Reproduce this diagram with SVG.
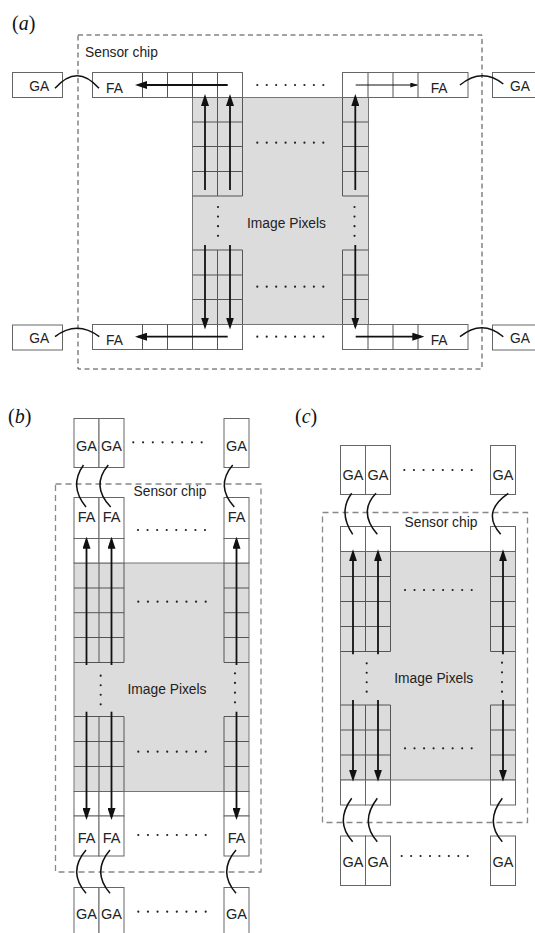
<svg xmlns="http://www.w3.org/2000/svg" width="535" height="933" viewBox="0 0 535 933">
<defs>
<marker id="ah" viewBox="0 0 12 8" refX="9" refY="4" markerWidth="12" markerHeight="8" markerUnits="userSpaceOnUse" orient="auto"><path d="M0,0 L12,4 L0,8 z" fill="#111"/></marker>
<marker id="ahs" viewBox="0 0 8 5" refX="7" refY="2.5" markerWidth="8" markerHeight="5" markerUnits="userSpaceOnUse" orient="auto"><path d="M0,0 L8,2.5 L0,5 z" fill="#111"/></marker>
</defs>
<style>
.box{fill:#fff;stroke:#666;stroke-width:1}
.grid{fill:none;stroke:#555;stroke-width:1}
.pix{fill:#dcdcdc;stroke:#777;stroke-width:1}
.chipA{fill:none;stroke:#444;stroke-width:1;stroke-dasharray:5 3.5}
.chipB{fill:none;stroke:#888;stroke-width:1.3;stroke-dasharray:6 4}
.arc{fill:none;stroke:#111;stroke-width:1.5}
.arr{fill:none;stroke:#111;stroke-width:1.8;marker-end:url(#ah)}
.thin{fill:none;stroke:#111;stroke-width:1;marker-end:url(#ahs)}
.dots{fill:none;stroke:#222;stroke-width:2.2;stroke-linecap:round}
.lbl{font-family:"Liberation Sans",Arial,sans-serif;font-size:13.8px;fill:#222}
.lb2{font-family:"Liberation Sans",Arial,sans-serif;font-size:14.5px;fill:#222;text-anchor:middle}
.mid{text-anchor:middle}
.pan{font-family:"Liberation Serif","Times New Roman",serif;font-size:20px;fill:#111}
</style>
<rect width="535" height="933" fill="#fff"/>

<!-- ================= Panel (a) ================= -->
<g id="a-label"><text class="pan" x="12" y="30">(<tspan font-style="italic">a</tspan>)</text></g>
<g id="a-chip">
<rect class="chipA" x="78" y="35" width="404" height="334"/>
<text class="lbl" x="85" y="57">Sensor chip</text>
</g>
<g id="a-pixels">
<rect class="pix" x="192.5" y="97.5" width="176" height="227"/>
<path class="grid" d="M192.5,122H242.5M192.5,146.5H242.5M192.5,171.5H242.5M192.5,196H242.5M217.5,97.5V196M242.5,97.5V196
M192.5,250H242.5M192.5,275H242.5M192.5,299.5H242.5M217.5,250V324.5M242.5,250V324.5
M342.5,122H368.5M342.5,146.5H368.5M342.5,171.5H368.5M342.5,196H368.5M342.5,97.5V196
M342.5,250H368.5M342.5,275H368.5M342.5,299.5H368.5M342.5,250V324.5"/>
<text class="lbl mid" x="286.5" y="228">Image Pixels</text>
<line class="dots" x1="257.3" y1="142.7" x2="323.6" y2="142.7" stroke-dasharray="0 9.43"/>
<line class="dots" x1="257.3" y1="286.7" x2="323.6" y2="286.7" stroke-dasharray="0 9.43"/>
<line class="dots" x1="218" y1="207" x2="218" y2="236.1" stroke-dasharray="0 9.6"/>
<line class="dots" x1="354.5" y1="207" x2="354.5" y2="236.1" stroke-dasharray="0 9.6"/>
</g>
<g id="a-fa-top-left">
<rect class="box" x="92.5" y="72.5" width="150" height="25"/>
<path class="grid" d="M142.5,72.5V97.5M167.5,72.5V97.5M192.5,72.5V97.5M217.5,72.5V97.5"/>
<text class="lbl" x="106" y="93">FA</text>
</g>
<g id="a-fa-top-right">
<rect class="box" x="342.5" y="72.5" width="125.5" height="25"/>
<path class="grid" d="M368,72.5V97.5M393,72.5V97.5M418,72.5V97.5"/>
<text class="lbl" x="430.7" y="93">FA</text>
</g>
<g id="a-fa-bottom-left">
<rect class="box" x="92.5" y="324.5" width="150" height="25"/>
<path class="grid" d="M142.5,324.5V349.5M167.5,324.5V349.5M192.5,324.5V349.5M217.5,324.5V349.5"/>
<text class="lbl" x="106" y="344.5">FA</text>
</g>
<g id="a-fa-bottom-right">
<rect class="box" x="342.5" y="324.5" width="125.5" height="25"/>
<path class="grid" d="M368,324.5V349.5M393,324.5V349.5M418,324.5V349.5"/>
<text class="lbl" x="430.7" y="345">FA</text>
</g>
<g id="a-ga-top-left"><rect class="box" x="12.5" y="72.5" width="50" height="25"/><text class="lbl" x="29.3" y="90.7">GA</text></g>
<g id="a-ga-top-right"><rect class="box" x="492.5" y="72.5" width="50" height="25"/><text class="lbl" x="510" y="90.7">GA</text></g>
<g id="a-ga-bottom-left"><rect class="box" x="12.5" y="325" width="50" height="25"/><text class="lbl" x="29.3" y="343.3">GA</text></g>
<g id="a-ga-bottom-right"><rect class="box" x="492.5" y="325" width="50" height="25"/><text class="lbl" x="510" y="343.3">GA</text></g>
<g id="a-dots-rows">
<line class="dots" x1="257.3" y1="85" x2="323.6" y2="85" stroke-dasharray="0 9.43"/>
<line class="dots" x1="257.3" y1="336.7" x2="323.6" y2="336.7" stroke-dasharray="0 9.43"/>
</g>
<g id="a-connectors">
<path class="arc" d="M55,88.3 Q77,63 99,88.3"/>
<path class="arc" d="M460,85 Q482,67 503.3,84"/>
<path class="arc" d="M55,336.7 Q77,320 99.3,336.7"/>
<path class="arc" d="M460,336.7 Q482,318.7 503.3,336.7"/>
<line class="arr" x1="205" y1="190" x2="205" y2="97"/>
<line class="arr" x1="230" y1="190" x2="230" y2="97"/>
<line class="arr" x1="355.3" y1="190" x2="355.3" y2="97"/>
<line class="arr" x1="205" y1="245" x2="205" y2="326.5"/>
<line class="arr" x1="230" y1="245" x2="230" y2="326.5"/>
<line class="arr" x1="355.3" y1="245" x2="355.3" y2="326.5"/>
<line class="arr" x1="227.7" y1="85" x2="138" y2="85"/>
<line class="thin" x1="355.7" y1="85" x2="417.3" y2="85"/>
<line class="arr" x1="227.7" y1="336.7" x2="138" y2="336.7"/>
<line class="arr" x1="355.7" y1="336.7" x2="421.3" y2="336.7"/>
</g>

<!-- ================= Panel (b) ================= -->
<g id="b-label"><text class="pan" x="8" y="423">(<tspan font-style="italic">b</tspan>)</text></g>
<g id="b-chip">
<rect class="chipB" x="55.5" y="484" width="205.5" height="388"/>
<text class="lbl mid" x="170" y="496">Sensor chip</text>
</g>
<g id="b-pixels">
<rect class="pix" x="74" y="563" width="175" height="228.5"/>
<path class="grid" d="M74,588H124M74,612.7H124M74,637.5H124M74,662.5H124M99,563V662.5M124,563V662.5
M224,588H249M224,612.7H249M224,637.5H249M224,662.5H249M224,563V662.5
M74,716.5H124M74,741.5H124M74,766.5H124M99,716.5V791.5M124,716.5V791.5
M224,716.5H249M224,741.5H249M224,766.5H249M224,716.5V791.5"/>
<text class="lbl mid" x="167" y="694">Image Pixels</text>
<line class="dots" x1="138.3" y1="601.7" x2="206" y2="601.7" stroke-dasharray="0 9.63"/>
<line class="dots" x1="138.3" y1="751.7" x2="206" y2="751.7" stroke-dasharray="0 9.63"/>
<line class="dots" x1="100.7" y1="675.7" x2="100.7" y2="704.6" stroke-dasharray="0 9.53"/>
<line class="dots" x1="235" y1="673.3" x2="235" y2="702.6" stroke-dasharray="0 9.67"/>
</g>
<g id="b-ga-top">
<rect class="box" x="74" y="418.5" width="25" height="49"/>
<rect class="box" x="99" y="418.5" width="25" height="49"/>
<rect class="box" x="224" y="418.5" width="25" height="49"/>
<text class="lb2" x="86.5" y="450.5">GA</text>
<text class="lb2" x="111.5" y="450.5">GA</text>
<text class="lb2" x="236.5" y="450.5">GA</text>
<line class="dots" x1="133.3" y1="442.3" x2="202" y2="442.3" stroke-dasharray="0 9.77"/>
</g>
<g id="b-fa-top">
<rect class="box" x="74" y="497.5" width="25" height="41"/>
<rect class="box" x="99" y="497.5" width="25" height="41"/>
<rect class="box" x="224" y="497.5" width="25" height="41"/>
<rect class="box" x="74" y="538.5" width="25" height="24.5"/>
<rect class="box" x="99" y="538.5" width="25" height="24.5"/>
<rect class="box" x="224" y="538.5" width="25" height="24.5"/>
<text class="lb2" x="86.5" y="522.3">FA</text>
<text class="lb2" x="111.5" y="522.3">FA</text>
<text class="lb2" x="236.5" y="522.3">FA</text>
<line class="dots" x1="138" y1="530" x2="205.3" y2="530" stroke-dasharray="0 9.57"/>
</g>
<g id="b-fa-bottom">
<rect class="box" x="74" y="791.5" width="25" height="24.5"/>
<rect class="box" x="99" y="791.5" width="25" height="24.5"/>
<rect class="box" x="224" y="791.5" width="25" height="24.5"/>
<rect class="box" x="74" y="816" width="25" height="40"/>
<rect class="box" x="99" y="816" width="25" height="40"/>
<rect class="box" x="224" y="816" width="25" height="40"/>
<text class="lb2" x="86.5" y="842.7">FA</text>
<text class="lb2" x="111.5" y="842.7">FA</text>
<text class="lb2" x="236.5" y="842.7">FA</text>
<line class="dots" x1="138.3" y1="835" x2="206" y2="835" stroke-dasharray="0 9.63"/>
</g>
<g id="b-ga-bottom">
<rect class="box" x="74" y="887.5" width="25" height="49"/>
<rect class="box" x="99" y="887.5" width="25" height="49"/>
<rect class="box" x="224" y="887.5" width="25" height="49"/>
<text class="lb2" x="86.5" y="919.3">GA</text>
<text class="lb2" x="111.5" y="919.3">GA</text>
<text class="lb2" x="236.5" y="919.3">GA</text>
<line class="dots" x1="138.3" y1="911.7" x2="206" y2="911.7" stroke-dasharray="0 9.63"/>
</g>
<g id="b-connectors">
<path class="arc" d="M83.5,465 Q68.6,486 86,507"/>
<path class="arc" d="M108.3,465 Q90.5,486 110.7,507"/>
<path class="arc" d="M232.7,465 Q215.1,486 234.3,507"/>
<path class="arc" d="M86,850 Q67.4,871.7 86,893.3"/>
<path class="arc" d="M110,850 Q91.4,871.7 110,893.3"/>
<path class="arc" d="M236,850 Q217.4,871.7 236,893.3"/>
<line class="arr" x1="86.5" y1="665" x2="86.5" y2="539.7"/>
<line class="arr" x1="111.5" y1="665" x2="111.5" y2="539.7"/>
<line class="arr" x1="236.5" y1="665" x2="236.5" y2="539.7"/>
<line class="arr" x1="86.5" y1="711.7" x2="86.5" y2="817"/>
<line class="arr" x1="111.5" y1="711.7" x2="111.5" y2="817"/>
<line class="arr" x1="236.5" y1="711.7" x2="236.5" y2="817"/>
</g>

<!-- ================= Panel (c) ================= -->
<g id="c-label"><text class="pan" x="295" y="423.3">(<tspan font-style="italic">c</tspan>)</text></g>
<g id="c-chip">
<rect class="chipB" x="322.5" y="512.5" width="205" height="310"/>
<text class="lbl mid" x="441" y="526.7">Sensor chip</text>
</g>
<g id="c-pixels">
<rect class="pix" x="340.5" y="551.5" width="175" height="228.5"/>
<path class="grid" d="M340.5,576.5H390.5M340.5,601.5H390.5M340.5,626.5H390.5M340.5,651.5H390.5M365.5,551.5V651.5M390.5,551.5V651.5
M490.5,576.5H515.5M490.5,601.5H515.5M490.5,626.5H515.5M490.5,651.5H515.5M490.5,551.5V651.5
M340.5,705H390.5M340.5,730H390.5M340.5,755H390.5M365.5,705V780M390.5,705V780
M490.5,705H515.5M490.5,730H515.5M490.5,755H515.5M490.5,705V780"/>
<text class="lbl mid" x="433.7" y="682.7">Image Pixels</text>
<line class="dots" x1="405" y1="590" x2="472" y2="590" stroke-dasharray="0 9.53"/>
<line class="dots" x1="405" y1="748.3" x2="472" y2="748.3" stroke-dasharray="0 9.53"/>
<line class="dots" x1="366.7" y1="663.3" x2="366.7" y2="692" stroke-dasharray="0 9.47"/>
<line class="dots" x1="502" y1="662.7" x2="502" y2="692" stroke-dasharray="0 9.67"/>
</g>
<g id="c-ga-top">
<rect class="box" x="340.5" y="445.5" width="25" height="49"/>
<rect class="box" x="365.5" y="445.5" width="25" height="49"/>
<rect class="box" x="490.5" y="445.5" width="25" height="49"/>
<text class="lb2" x="353" y="480">GA</text>
<text class="lb2" x="378" y="480">GA</text>
<text class="lb2" x="503" y="480">GA</text>
<line class="dots" x1="404.3" y1="470" x2="472" y2="470" stroke-dasharray="0 9.63"/>
</g>
<g id="c-cells-top">
<rect class="box" x="340.5" y="526.5" width="25" height="25"/>
<rect class="box" x="365.5" y="526.5" width="25" height="25"/>
<rect class="box" x="490.5" y="526.5" width="25" height="25"/>
</g>
<g id="c-cells-bottom">
<rect class="box" x="340.5" y="780" width="25" height="25"/>
<rect class="box" x="365.5" y="780" width="25" height="25"/>
<rect class="box" x="490.5" y="780" width="25" height="25"/>
</g>
<g id="c-ga-bottom">
<rect class="box" x="340.5" y="836" width="25" height="49.5"/>
<rect class="box" x="365.5" y="836" width="25" height="49.5"/>
<rect class="box" x="490.5" y="836" width="25" height="49.5"/>
<text class="lb2" x="353" y="866.7">GA</text>
<text class="lb2" x="378" y="866.7">GA</text>
<text class="lb2" x="503" y="866.7">GA</text>
<line class="dots" x1="401.7" y1="856" x2="468" y2="856" stroke-dasharray="0 9.43"/>
</g>
<g id="c-connectors">
<path class="arc" d="M351.7,493.3 Q337.8,512 352.7,534.3"/>
<path class="arc" d="M376,493.3 Q358,512 377.3,534.3"/>
<path class="arc" d="M508.3,493.3 Q480.9,512 500.7,534.3"/>
<path class="arc" d="M351.7,798.3 Q334.4,822 352.7,841.7"/>
<path class="arc" d="M377.3,798.3 Q359.3,822 377.3,841.7"/>
<path class="arc" d="M502.3,798.3 Q484.3,822 502.3,841.7"/>
<line class="arr" x1="353" y1="654.3" x2="353" y2="552.3"/>
<line class="arr" x1="378" y1="654.3" x2="378" y2="552.3"/>
<line class="arr" x1="503" y1="654.3" x2="503" y2="552.3"/>
<line class="arr" x1="353" y1="700" x2="353" y2="778.7"/>
<line class="arr" x1="378" y1="700" x2="378" y2="778.7"/>
<line class="arr" x1="503" y1="700" x2="503" y2="778.7"/>
</g>
</svg>
